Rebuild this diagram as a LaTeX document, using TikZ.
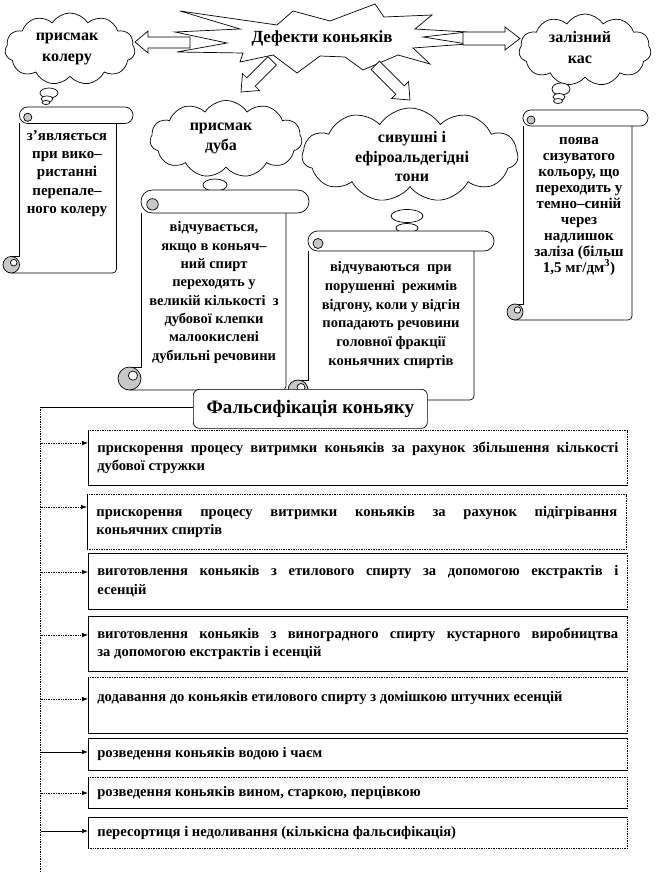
\documentclass[tikz,border=0pt]{standalone}
\usepackage{fontspec}
\setmainfont{Liberation Serif}
\usetikzlibrary{shapes.symbols,arrows.meta}
\definecolor{curlgray}{gray}{0.78}
% vertical scroll: L T R B d
\newcommand\myscroll[5]{%
  \pgfmathsetmacro\scA{#1+#5}%
  \pgfmathsetmacro\scB{#3-#5}%
  \pgfmathsetmacro\scR{#5/2}%
  \pgfmathsetmacro\scTd{#2+#5}%
  \pgfmathsetmacro\scBd{#4-#5}%
  \pgfmathsetmacro\scBr{#4-#5/2}%
  \pgfmathsetmacro\scLr{#1+#5/2}%
  \pgfmathsetmacro\scTr{#2+#5/2}%
  \pgfmathsetmacro\scAr{#1+#5+#5/2}%
  \fill[white] (\scA,\scTd) rectangle (\scB,#4);
  \draw[rounded corners=4pt] (\scB,\scTd) -- (\scB,#4) -- (\scLr,#4);
  \draw (\scA,\scTd) -- (\scA,\scBd) -- (\scLr,\scBd);
  \draw[fill=curlgray] (\scLr,\scBr) circle[radius=\scR];
  \draw[fill=white] ({\scLr+\scR*0.3},{\scBr-\scR*0.25}) circle[radius={\scR*0.4}];
  \draw[fill=white, rounded corners={\scR pt - 0.2pt}] (\scA,#2) rectangle (#3,\scTd);
  \draw[fill=curlgray] (\scAr,{\scTr+\scR*0.25}) circle[radius={\scR*0.5}];
}
\begin{document}
\begin{tikzpicture}[x=1pt,y=-1pt, line width=0.7pt,
  cloudy/.style={cloud, draw, fill=white, cloud puffs=11, cloud puff arc=115, inner sep=0pt},
  cltxt/.style={align=center, inner sep=0pt, font=\fontsize{16}{21}\selectfont\bfseries},
  scrtxt/.style={align=center, inner sep=0pt, font=\fontsize{14.5}{18.3}\selectfont\bfseries},
  fbox/.style={anchor=north west, text width=521pt, inner xsep=9pt, inner ysep=0pt,
     align=justify, font=\fontsize{14.6}{18.5}\selectfont\bfseries},
  bubble/.style={draw, fill=white}]
\useasboundingbox (0,0) rectangle (657,872);

% explosion
\draw[fill=white] (180,11) -- (277,25) -- (293,11) -- (330,21) -- (375,4) -- (384,17)
  -- (432,15) -- (415,29) -- (467,32) -- (423,37) -- (467,44) -- (413,48) -- (430,64)
  -- (398,55) -- (363,70) -- (345,57) -- (320,56) -- (297,73) -- (273,55) -- (240,62)
  -- (243,53) -- (177,52) -- (227,43) -- (175,32) -- (240,29) -- cycle;
\node[font=\fontsize{17}{20}\selectfont\bfseries] (defects) at (322,38) {Дефекти коньяків};

% block arrows
\draw[fill=white] (190,37) -- (148,37) -- (148,31) -- (135,42) -- (148,53) -- (148,48) -- (190,48) -- cycle;
\draw[fill=white] (463,32) -- (505,32) -- (505,27) -- (520,38.5) -- (505,50) -- (505,45) -- (463,45) -- cycle;
\draw[fill=white] (268.0,56.6) -- (246.8,77.8) -- (242.5,73.5) -- (241,92) -- (259.5,90.5) -- (255.2,86.2) -- (276.4,65.0) -- cycle;
\draw[fill=white] (379.5,61.1) -- (404.2,85.8) -- (408.5,81.5) -- (410,100) -- (391.5,98.5) -- (395.8,94.2) -- (371.1,69.5) -- cycle;

% clouds
\node[cloudy, minimum width=130pt, minimum height=72pt] (c1) at (70,49) {};
\node[cltxt] (c1t) at (67,49) {присмак\\колеру};
\node[cloudy, minimum width=132pt, minimum height=72pt] (c2) at (585,50) {};
\node[cltxt] (c2t) at (580,48) {залізний\\кас};
\node[cloudy, minimum width=152pt, minimum height=77pt] (c3) at (226,139) {};
\node[cltxt, font=\fontsize{16}{20}\selectfont\bfseries] (c3t) at (221,138) {присмак\\дуба};
\node[cloudy, minimum width=216pt, minimum height=94pt] (c4) at (410,155) {};
\node[cltxt, font=\fontsize{16}{19.5}\selectfont\bfseries] (c4t) at (412,157) {сивушні і\\ефіроальдегідні\\тони};

% thought bubbles
\draw[bubble] (49,93) ellipse[x radius=9, y radius=5];
\draw[bubble] (47,99) ellipse[x radius=6, y radius=3];
\draw[bubble] (46,102.5) ellipse[x radius=4, y radius=2];
\draw[bubble] (561,89) ellipse[x radius=9, y radius=6];
\draw[bubble] (559,97) ellipse[x radius=6, y radius=3.5];
\draw[bubble] (558,101) ellipse[x radius=4.5, y radius=2.5];
\draw[bubble] (215,185) ellipse[x radius=12, y radius=6];
\draw[bubble] (407,216) ellipse[x radius=16, y radius=6.5];
\draw[bubble] (407,228) ellipse[x radius=11, y radius=4.5];

% scrolls
\myscroll{3}{107}{133}{273}{16.5}
\node[scrtxt, font=\fontsize{15}{18.3}\selectfont\bfseries] (s1) at (67,173.5) {з’являється\\при вико–\\ристанні\\перепале–\\ного колеру};
\myscroll{118}{190}{309}{390}{23}
\node[scrtxt] (s2) at (214,292.5) {відчувається,\\якщо в коньяч–\\ний спирт\\переходять у\\великій кількості~ з\\дубової клепки\\малоокислені\\дубильні речовини};
\myscroll{288}{231}{494}{400}{20}
\node[scrtxt, font=\fontsize{14.5}{18.8}\selectfont\bfseries] (s3) at (391,315) {відчуваються~ при\\порушенні~ режимів\\відгону, коли у відгін\\попадають речовини\\головної фракції\\коньячних спиртів};
\myscroll{507}{110}{648}{320}{16}
\node[scrtxt, font=\fontsize{15}{15.9}\selectfont\bfseries] (s4) at (579,206.5) {поява\\сизуватого\\кольору, що\\переходить у\\темно–синій\\через\\надлишок\\заліза (більш\\1,5 мг/дм\textsuperscript{3})};

% falsification
\node[draw, fill=white, rounded corners=6pt, minimum width=234pt, minimum height=39pt, anchor=north west,
  font=\fontsize{19}{22}\selectfont\bfseries] (fals) at (193,389) {Фальсифікація коньяку};

\node[fbox, minimum height=55pt] (b1) at (88,430) {прискорення процесу витримки коньяків за рахунок збільшення кількості\linebreak дубової стружки};
\node[fbox, minimum height=55pt] (b2) at (87,494) {прискорення процесу витримки коньяків за рахунок підігрівання\linebreak коньячних спиртів};
\node[fbox, minimum height=56pt] (b3) at (88,553) {виготовлення коньяків з етилового спирту за допомогою екстрактів і\linebreak есенцій};
\node[fbox, minimum height=55pt] (b4) at (88,616) {виготовлення коньяків з виноградного спирту кустарного виробництва\linebreak за допомогою екстрактів і есенцій};
\node[fbox, minimum height=56pt] (b5) at (88,677) {додавання до коньяків етилового спирту з домішкою штучних есенцій\\\mbox{}};
\node[fbox, minimum height=32pt] (b6) at (88,738) {розведення коньяків водою і чаєм};
\node[fbox, minimum height=31pt] (b7) at (88,777) {розведення коньяків вином, старкою, перцівкою};
\node[fbox, minimum height=31pt] (b8) at (88,817) {пересортиця і недоливання (кількісна фальсифікація)};

\foreach \b/\tp/\bt in {b1/densely dotted/solid, b2/densely dotted/densely dotted, b3/solid/solid,
   b4/solid/solid, b5/densely dotted/solid, b6/solid/solid, b7/densely dotted/solid, b8/solid/densely dotted}{
  \draw (\b.north west) -- (\b.south west);
  \draw[\bt] (\b.south west) -- (\b.south east);
  \draw[densely dotted] (\b.south east) -- (\b.north east);
  \draw[\tp] (\b.north east) -- (\b.north west);
}

% trunk and arrows
\coordinate (ttop) at (40.7,407);
\coordinate (tbot) at (40.7,872);
\draw[densely dotted] (ttop) -- (tbot);
\draw (ttop) -- (ttop -| fals.west);
\foreach \b/\o/\s in {b1/13/densely dotted, b2/13/densely dotted, b3/19/densely dotted, b4/19/densely dotted,
   b5/22/densely dotted, b6/14/solid, b7/16/densely dotted, b8/14/solid}{
  \coordinate (a\b) at ([yshift=-\o pt]\b.north west);
  \draw[\s, -{Latex[length=6pt,width=4.5pt]}] (ttop |- a\b) -- (a\b);
}
\end{tikzpicture}
\end{document}
